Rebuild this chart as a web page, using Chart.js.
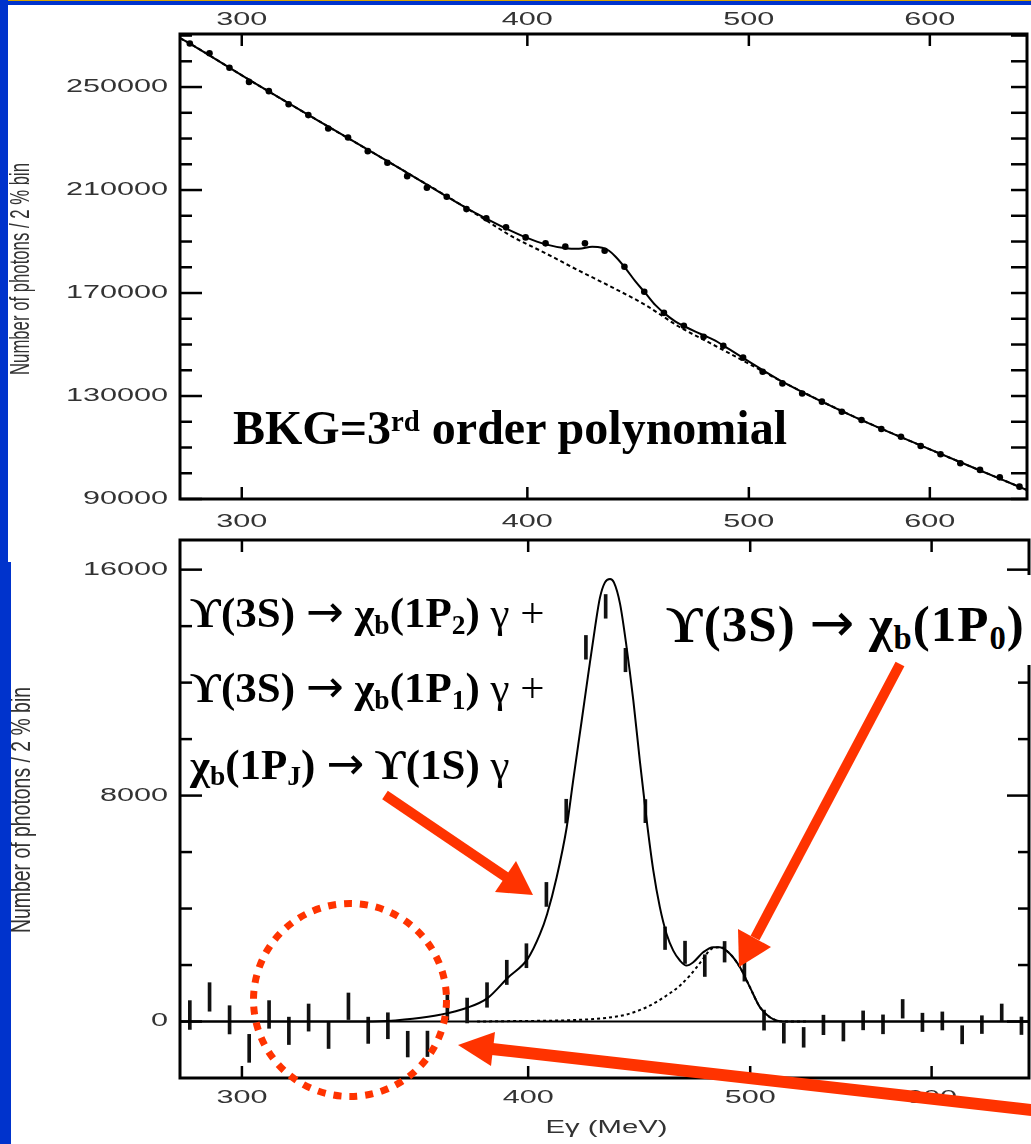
<!DOCTYPE html>
<html lang="en">
<head>
<meta charset="UTF-8">
<title>Inclusive photon spectrum at the Upsilon(3S)</title>
<script src="https://cdn.jsdelivr.net/npm/chart.js@4"></script>
<style>
  html, body { margin: 0; padding: 0; background: #fff; }
  body { width: 1031px; height: 1144px; position: relative; overflow: hidden; }
  canvas { position: absolute; left: 0; }
  #topChart { top: 0; }
  #botChart { top: 530px; }
  .band { position: absolute; background: #0033cc; z-index: 3; }
  .note {
    position: absolute; white-space: nowrap; line-height: 1; z-index: 2;
    font-family: 'Liberation Serif', 'Times New Roman', serif; font-weight: bold; color: #000;
  }
  .note .sub { position: relative; top: 0.24em; font-size: 0.64em; }
  .note .sup { position: relative; top: -0.45em; font-size: 0.6em; }
  .note .thin { font-weight: normal; }
  .note .arr { font-family: 'DejaVu Sans', sans-serif; font-weight: normal; font-size: 1.05em; }
  #marks { position: absolute; left: 0; top: 0; z-index: 4; pointer-events: none; }
</style>
</head>
<body>
<canvas id="topChart" width="1031" height="535"></canvas>
<canvas id="botChart" width="1031" height="614"></canvas>

<!-- slide frame -->
<div class="band" style="left:0; top:0; width:1031px; height:1px; background:#d9a400"></div>
<div class="band" style="left:0; top:1px; width:1031px; height:4px"></div>
<div class="band" style="left:0; top:0; width:8px; height:562px"></div>
<div class="band" style="left:0; top:562px; width:11px; height:582px"></div>

<div class="note" style="left:233px; top:403.8px; font-size:48px">BKG=3<span class="sup">rd</span> order polynomial</div>
<div class="note" style="left:190px; top:589px; font-size:43px">ϒ(3S) <span class="arr">→</span> χ<span class="sub">b</span>(1P<span class="sub">2</span>) <span class="thin">γ +</span></div>
<div class="note" style="left:190px; top:664px; font-size:43px">ϒ(3S) <span class="arr">→</span> χ<span class="sub">b</span>(1P<span class="sub">1</span>) <span class="thin">γ +</span></div>
<div class="note" style="left:190px; top:740.7px; font-size:43px">χ<span class="sub">b</span>(1P<span class="sub">J</span>) <span class="arr">→</span> ϒ(1S) <span class="thin">γ</span></div>
<div class="note" style="left:658px; top:575px; font-size:51px; letter-spacing:1px; padding:20.8px 40px 15.2px 8px; background:#fff">ϒ(3S) <span class="arr">→</span> χ<span class="sub">b</span>(1P<span class="sub">0</span>)</div>

<svg id="marks" width="1031" height="1144">
  <g stroke="#ff3300" fill="none">
    <line x1="385" y1="795" x2="506" y2="877" stroke-width="10"/>
    <line x1="900" y1="664" x2="755" y2="938" stroke-width="10"/>
    <line x1="1040" y1="1111" x2="492" y2="1049" stroke-width="12"/>
    <circle cx="350" cy="1000" r="96.5" stroke-width="7" stroke-dasharray="8 8"/>
  </g>
  <g fill="#ff3300">
    <polygon points="533,895 495,892 516,861"/>
    <polygon points="739,967 771,947 738,929"/>
    <polygon points="458,1045 495,1032 491,1066"/>
  </g>
</svg>

<script>
// photon energy bin centres (MeV), 2% bins
const binE = [284.7, 290.4, 296.3, 302.2, 308.3, 314.5, 320.8, 327.3, 333.9, 340.6,
              347.4, 354.4, 361.5, 368.8, 376.2, 383.8, 391.5, 399.3, 407.4, 415.6,
              423.9, 432.4, 441.1, 450.0, 459.0, 468.3, 477.7, 487.3, 497.1, 507.0,
              517.2, 527.6, 538.2, 549.1, 560.1, 571.4, 582.8, 594.5, 606.5, 618.7,
              631.1, 643.8, 656.7];

// raw spectrum, photons per bin
const topCounts = [266900, 263100, 257500, 252000, 248400, 243300, 239100, 233900, 230400, 225100,
                   220600, 215400, 210900, 207400, 202600, 199000, 195500, 191600, 189300, 188000,
                   189300, 186400, 180200, 170500, 162300, 157300, 153000, 149500, 144900, 139400,
                   134900, 131000, 127800, 123900, 120700, 117200, 114200, 110600, 107400, 103900,
                   101300, 98400, 94800];

// 3rd order polynomial background
const bkgE = [281.9, 284.7, 302.4, 327.8, 351.6, 376.5, 383.6, 394.0, 407.5, 421.3,
              435.7, 450.6, 465.9, 481.7, 498.2, 515.2, 552.7, 593.0, 642.6, 661.7];
const bkgCounts = [269000, 266900, 252700, 234300, 218500, 202800, 198300, 191900, 185400, 178700,
                   172200, 165300, 157000, 150200, 143300, 136300, 123000, 111200, 98200, 93500];

// full fit, signal + background
const topFitE = [281.9, 284.7, 302.4, 327.8, 351.6, 376.5, 381.1, 391.4, 399.4, 407.5,
                 415.8, 421.3, 427.0, 431.3, 434.3, 437.2, 441.6, 446.1, 450.6, 455.1,
                 459.7, 464.4, 469.0, 473.8, 478.6, 483.4, 488.3, 494.9, 501.5, 515.2,
                 552.7, 593.0, 642.6, 661.7];
const topFitCounts = [269000, 266900, 252700, 234300, 218500, 202800, 200300, 195100, 191600, 188900,
                      187400, 187200, 188000, 187600, 186400, 184100, 179600, 174400, 169900, 165300,
                      161800, 158900, 156900, 155000, 153300, 151500, 149100, 145900, 142700, 136400,
                      123000, 111200, 98200, 93500];

// background subtracted spectrum and its errors
const sigCounts = [230, 870, 60, -950, 250, -330, 140, -480, 540, -310,
                   -150, -800, -790, 500, 390, 940, 1740, 2330, 4500, 7450,
                   13250, 14700, 12800, 7450, 2950, 2450, 1980, 2470, 1780, 50,
                   -410, -560, -120, -350, 40, -100, 450, -30, 20, -470,
                   -110, 310, -150];
const sigErr = [510, 505, 500, 495, 490, 485, 480, 475, 470, 465,
                460, 455, 450, 445, 440, 435, 430, 425, 425, 420,
                420, 420, 415, 410, 400, 395, 385, 365, 350, 355,
                355, 350, 345, 340, 335, 335, 330, 325, 320, 320,
                315, 310, 310];

// fitted signal shape (all transitions)
const fitE = [282, 340, 350, 356.2, 366.1, 376.0, 384.0, 392.0, 399.8, 404.8,
              407.7, 411.6, 415.8, 418.5, 422.1, 424.9, 427.8, 429.9, 432.1, 434.3,
              436.0, 438.7, 441.6, 444.6, 447.5, 450.6, 453.6, 456.6, 459.7, 462.8,
              465.9, 469.0, 472.2, 476.9, 481.7, 485.0, 489.9, 494.9, 499.9, 504.9,
              510.0, 516.9, 662];
const fitCounts = [0, 0, 40, 95, 240, 480, 830, 1560, 2220, 3100,
                   3810, 5100, 6880, 8530, 10650, 12300, 13950, 15000, 15550, 15670,
                   15550, 14790, 13250, 11360, 9240, 7120, 5350, 4050, 3100, 2510,
                   2160, 1980, 2100, 2450, 2630, 2630, 2400, 1920, 1210, 510,
                   150, 0, 0];

// chi_b(1P0) component
const p0E = [380, 388.8, 421.3, 432.8, 441.6, 450.6, 459.7, 465.9, 470.6, 473.8,
             476.9, 478.6, 481.7, 485.0, 489.9, 494.9, 499.9, 504.9, 510.0, 516.9, 530];
const p0Counts = [0, 10, 60, 130, 250, 510, 920, 1270, 1630, 1920,
                  2220, 2400, 2600, 2630, 2400, 1920, 1210, 510, 150, 0, 0];

const xTicks = [300, 400, 500, 600];
const topYLabels = [90000, 130000, 170000, 210000, 250000];
const botYLabels = [0, 8000, 16000];
const yTitle = 'Number of photons / 2 % bin';
const xTitle = 'E\u03b3 (MeV)';

const pts = (xs, ys) => xs.map((x, i) => ({ x, y: ys[i] }));

function stretched(ctx, text, x, y, align, sx) {
  ctx.save();
  ctx.translate(x, y);
  ctx.scale(sx, 1);
  ctx.textAlign = align;
  ctx.textBaseline = 'middle';
  ctx.fillText(text, 0, 0);
  ctx.restore();
}

// frame with inward ticks on all four sides, wide tick labels, rotated y title
const panelAxes = {
  id: 'panelAxes',
  beforeDatasetsDraw(chart, args, o) {
    if (!o.zeroLine) return;
    const { ctx, chartArea: a, scales: { y } } = chart;
    const py = y.getPixelForValue(0);
    ctx.save();
    ctx.strokeStyle = '#000';
    ctx.lineWidth = 2;
    ctx.beginPath(); ctx.moveTo(a.left, py); ctx.lineTo(a.right, py); ctx.stroke();
    ctx.restore();
  },
  afterDraw(chart, args, o) {
    const { ctx, chartArea: a, scales: { x, y } } = chart;
    const seg = (x1, y1, x2, y2) => { ctx.beginPath(); ctx.moveTo(x1, y1); ctx.lineTo(x2, y2); ctx.stroke(); };
    ctx.save();
    ctx.strokeStyle = '#000';
    ctx.lineWidth = 2.5;
    xTicks.forEach(v => {
      const px = x.getPixelForValue(v);
      seg(px, a.top, px, a.top + 12);
      seg(px, a.bottom, px, a.bottom - 12);
    });
    for (let v = o.yFrom; v <= y.max; v += o.yStep) {
      const py = y.getPixelForValue(v);
      const major = o.yLabels.includes(v);
      seg(a.left, py, a.left + (major ? 22 : 12), py);
      seg(a.right, py, a.right - (major ? o.rightMajor : o.rightMinor), py);
    }
    ctx.lineWidth = 3;
    ctx.strokeRect(a.left, a.top, a.right - a.left, a.bottom - a.top);

    ctx.fillStyle = '#333';
    ctx.font = '18px "Liberation Sans", Arial, sans-serif';
    o.yLabels.forEach(v => stretched(ctx, String(v), 168, y.getPixelForValue(v), 'right', 1.7));
    xTicks.forEach(v => {
      const px = x.getPixelForValue(v);
      o.xLabelRows.forEach(dy => stretched(ctx, String(v), px, dy < 0 ? a.top + dy : a.bottom + dy, 'center', 1.7));
    });
    if (o.xTitleRow) {
      const w = ctx.measureText(xTitle).width;
      stretched(ctx, xTitle, (a.left + a.right) / 2 + 2, a.bottom + o.xTitleRow, 'center', 122 / w);
    }

    ctx.font = '28px "Liberation Sans", Arial, sans-serif';
    const tw = ctx.measureText(yTitle).width;
    ctx.translate(o.yTitleX, o.yTitleY);
    ctx.rotate(-Math.PI / 2);
    ctx.scale(o.yTitleLen / tw, 1);
    ctx.textAlign = 'center';
    ctx.textBaseline = 'middle';
    ctx.fillText(yTitle, 0, 0);
    ctx.restore();
  }
};

const xScale = { type: 'logarithmic', min: 281.9, max: 661.7, display: false };

new Chart(document.getElementById('topChart'), {
  type: 'line',
  data: {
    datasets: [
      { data: pts(binE, topCounts), showLine: false, pointRadius: 3.3, pointBorderWidth: 0,
        pointBackgroundColor: '#000' },
      { data: pts(topFitE, topFitCounts), borderColor: '#000', borderWidth: 2, pointRadius: 0,
        cubicInterpolationMode: 'monotone' },
      { data: pts(bkgE, bkgCounts), borderColor: '#000', borderWidth: 2, borderDash: [4, 3],
        pointRadius: 0, cubicInterpolationMode: 'monotone' }
    ]
  },
  options: {
    responsive: false, animation: false, events: [],
    layout: { padding: { left: 180, right: 2, top: 34, bottom: 36 } },
    scales: {
      x: xScale,
      y: { type: 'linear', min: 90000, max: 270600, display: false }
    },
    plugins: {
      legend: { display: false }, tooltip: { enabled: false },
      panelAxes: {
        yFrom: 90000, yStep: 10000, yLabels: topYLabels, rightMajor: 16, rightMinor: 16,
        xLabelRows: [-13.5, 23.5], yTitleX: 21, yTitleY: 269, yTitleLen: 212
      }
    }
  },
  plugins: [panelAxes]
});

new Chart(document.getElementById('botChart'), {
  type: 'line',
  data: {
    datasets: [
      { data: pts(fitE, fitCounts), borderColor: '#000', borderWidth: 2, pointRadius: 0,
        cubicInterpolationMode: 'monotone' },
      { data: pts(p0E, p0Counts), borderColor: '#000', borderWidth: 2, borderDash: [3, 3],
        pointRadius: 0, cubicInterpolationMode: 'monotone' },
      { type: 'bar', data: binE.map((e, i) => ({ x: e, y: [sigCounts[i] - sigErr[i], sigCounts[i] + sigErr[i]] })),
        backgroundColor: '#111', barThickness: 3, borderWidth: 0 }
    ]
  },
  options: {
    responsive: false, animation: false, events: [],
    layout: { padding: { left: 180, right: 2, top: 10, bottom: 66 } },
    scales: {
      x: Object.assign({ offset: false }, xScale),
      y: { type: 'linear', min: -2000, max: 17050, display: false }
    },
    plugins: {
      legend: { display: false }, tooltip: { enabled: false },
      panelAxes: {
        zeroLine: true, yFrom: 0, yStep: 2000, yLabels: botYLabels, rightMajor: 22, rightMinor: 11,
        xLabelRows: [20.5], xTitleRow: 50, yTitleX: 22, yTitleY: 280, yTitleLen: 246
      }
    }
  },
  plugins: [panelAxes]
});
</script>
</body>
</html>
